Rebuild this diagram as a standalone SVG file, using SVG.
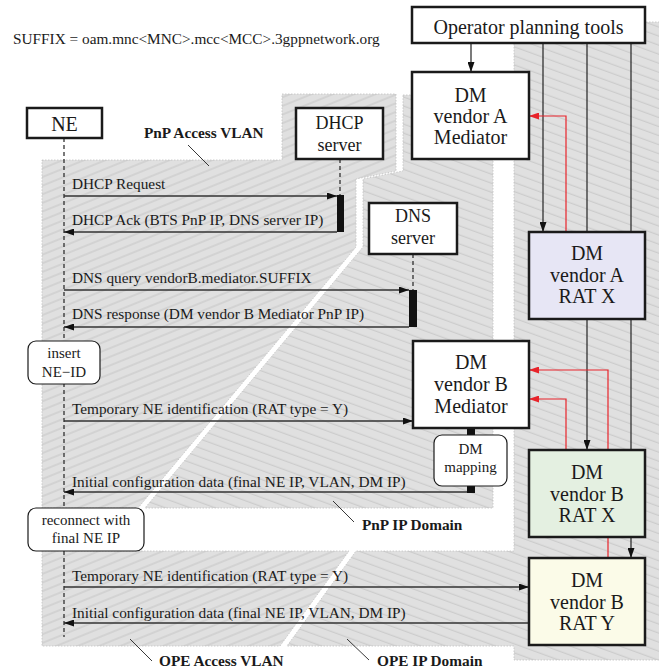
<svg xmlns="http://www.w3.org/2000/svg" width="659" height="670" viewBox="0 0 659 670">
<defs>
<pattern id="hatchL" patternUnits="userSpaceOnUse" width="10" height="8" patternTransform="rotate(-22)">
<rect width="10" height="8" fill="#e0e0e0"/>
<line x1="0" y1="4" x2="10" y2="4" stroke="#c2c2c2" stroke-width="0.9"/>
</pattern>
<pattern id="hatchR" patternUnits="userSpaceOnUse" width="10" height="8.5" patternTransform="rotate(20)">
<rect width="10" height="8.5" fill="#e0e0e0"/>
<line x1="0" y1="4" x2="10" y2="4" stroke="#c2c2c2" stroke-width="0.9"/>
</pattern>
<marker id="ah" viewBox="0 0 10 7" refX="10" refY="3.5" markerWidth="10" markerHeight="7" markerUnits="userSpaceOnUse" orient="auto">
<path d="M0,0 L10,3.5 L0,7 Z" fill="#111"/>
</marker>
<marker id="ahr" viewBox="0 0 10 7" refX="10" refY="3.5" markerWidth="10" markerHeight="7" markerUnits="userSpaceOnUse" orient="auto">
<path d="M0,0 L10,3.5 L0,7 Z" fill="#e8232a"/>
</marker>
<style>
.reg{stroke:#c2c2c2;stroke-width:0.8;stroke-dasharray:1.5 1.5}
.box{fill:#fff;stroke:#1a1a1a;stroke-width:2.5}
.rbox{fill:#fff;stroke:#1a1a1a;stroke-width:1.2}
.t{font-family:"Liberation Serif","Times New Roman",serif;fill:#1a1a1a}
.bt{font-size:20px;text-anchor:middle}
.bs{font-size:18px;text-anchor:middle}
.mt{font-size:15.3px}
.st{font-size:15px;text-anchor:middle}
.lb{font-size:15.3px;font-weight:bold}
.msg{stroke:#333;stroke-width:1.3;fill:none}
.life{stroke:#222;stroke-width:1.2;stroke-dasharray:4 3}
.con{stroke:#222;stroke-width:1.2;fill:none}
.red{stroke:#e8232a;stroke-width:1.2;fill:none}
.lead{stroke:#222;stroke-width:0.9}
</style>
</defs>

<g id="regions">
<path class="reg" fill="url(#hatchL)" d="M42,160 H282 V94 H396 V171 L356,179 V247 L138,508 H42 Z"/>
<path class="reg" fill="url(#hatchR)" d="M403,95 H493 V508 H145 L363,247 V179 L403,171 Z"/>
<path class="reg" fill="url(#hatchL)" d="M42,551 H349 L280,646 H42 Z"/>
<path class="reg" fill="url(#hatchR)" d="M514,22 H665 V660 H514 V646 H287 L356,551 H514 Z"/>
</g>

<text class="t mt" x="13" y="44">SUFFIX = oam.mnc&lt;MNC&gt;.mcc&lt;MCC&gt;.3gppnetwork.org</text>

<g id="region-labels">
<line class="lead" x1="188" y1="145" x2="209" y2="166"/>
<text class="t lb" x="144" y="138">PnP Access VLAN</text>
<line class="lead" x1="333" y1="501" x2="354" y2="522"/>
<text class="t lb" x="362" y="530">PnP IP Domain</text>
<line class="lead" x1="130" y1="639" x2="152" y2="661"/>
<text class="t lb" x="159" y="666">OPE Access VLAN</text>
<line class="lead" x1="347" y1="639" x2="369" y2="660"/>
<text class="t lb" x="377" y="666">OPE IP Domain</text>
</g>

<g id="connectors">
<line class="life" x1="64" y1="138" x2="64" y2="637"/>
<line class="life" x1="340" y1="159" x2="340" y2="195"/>
<line class="life" x1="413" y1="254" x2="413" y2="290"/>
<rect x="337" y="195" width="7" height="37" fill="#111"/>
<rect x="409" y="290" width="8" height="37" fill="#111"/>
<rect x="467" y="428" width="8" height="7" fill="#111"/>
<rect x="467" y="486" width="8" height="7" fill="#111"/>

<line class="msg" x1="64" y1="196" x2="337" y2="196" marker-end="url(#ah)"/>
<text class="t mt" x="72" y="189">DHCP Request</text>
<line class="msg" x1="337" y1="232" x2="64" y2="232" marker-end="url(#ah)"/>
<text class="t mt" x="72" y="225">DHCP Ack (BTS PnP IP, DNS server IP)</text>
<line class="msg" x1="64" y1="290" x2="409" y2="290" marker-end="url(#ah)"/>
<text class="t mt" x="72" y="283">DNS query vendorB.mediator.SUFFIX</text>
<line class="msg" x1="409" y1="327" x2="64" y2="327" marker-end="url(#ah)"/>
<text class="t mt" x="72" y="319">DNS response (DM vendor B Mediator PnP IP)</text>
<line class="msg" x1="64" y1="421" x2="413" y2="421" marker-end="url(#ah)"/>
<text class="t mt" x="72" y="414">Temporary NE identification (RAT type = Y)</text>
<line class="msg" x1="467" y1="492" x2="64" y2="492" marker-end="url(#ah)"/>
<text class="t mt" x="72" y="487">Initial configuration data (final NE IP, VLAN, DM IP)</text>
<line class="msg" x1="64" y1="587" x2="529" y2="587" marker-end="url(#ah)"/>
<text class="t mt" x="72" y="581">Temporary NE identification (RAT type = Y)</text>
<line class="msg" x1="529" y1="623" x2="64" y2="623" marker-end="url(#ah)"/>
<text class="t mt" x="72" y="618">Initial configuration data (final NE IP, VLAN, DM IP)</text>

<line class="con" x1="471" y1="43" x2="471" y2="72" marker-end="url(#ah)"/>
<line class="con" x1="543" y1="43" x2="543" y2="232" marker-end="url(#ah)"/>
<line class="con" x1="587" y1="43" x2="587" y2="450" marker-end="url(#ah)"/>
<line class="con" x1="631" y1="43" x2="631" y2="558" marker-end="url(#ah)"/>
<polyline class="red" points="566,232 566,116 529,116" marker-end="url(#ahr)"/>
<polyline class="red" points="608,558 608,370 529,370" marker-end="url(#ahr)"/>
<polyline class="red" points="566,450 566,399 529,399" marker-end="url(#ahr)"/>
</g>

<g id="operator">
<rect class="box" x="412" y="7" width="233" height="36"/>
<text class="t bt" x="528.5" y="34">Operator planning tools</text>
</g>
<g id="dm-a-mediator">
<rect class="box" x="412" y="72" width="117" height="87"/>
<text class="t bt" x="470.5" y="102">DM</text>
<text class="t bt" x="470.5" y="123">vendor A</text>
<text class="t bt" x="470.5" y="144">Mediator</text>
</g>
<g id="dm-a-ratx">
<rect class="box" x="529" y="232" width="116" height="87" style="fill:#e7e6f5"/>
<text class="t bt" x="587" y="260">DM</text>
<text class="t bt" x="587" y="282">vendor A</text>
<text class="t bt" x="587" y="303">RAT X</text>
</g>
<g id="dm-b-mediator">
<rect class="box" x="413" y="341" width="116" height="87"/>
<text class="t bt" x="471" y="369">DM</text>
<text class="t bt" x="471" y="391">vendor B</text>
<text class="t bt" x="471" y="413">Mediator</text>
</g>
<g id="dm-b-ratx">
<rect class="box" x="529" y="450" width="116" height="87" style="fill:#e4f0e1"/>
<text class="t bt" x="587" y="479">DM</text>
<text class="t bt" x="587" y="501">vendor B</text>
<text class="t bt" x="587" y="522">RAT X</text>
</g>
<g id="dm-b-raty">
<rect class="box" x="529" y="558" width="116" height="87" style="fill:#fbfbe8"/>
<text class="t bt" x="587" y="587">DM</text>
<text class="t bt" x="587" y="609">vendor B</text>
<text class="t bt" x="587" y="630">RAT Y</text>
</g>
<g id="ne">
<rect class="box" x="27" y="108" width="75" height="30"/>
<text class="t bt" x="64.5" y="131">NE</text>
</g>
<g id="dhcp">
<rect class="box" x="296" y="108" width="87" height="51"/>
<text class="t bs" x="339.5" y="129">DHCP</text>
<text class="t bs" x="339.5" y="151">server</text>
</g>
<g id="dns">
<rect class="box" x="369" y="203" width="88" height="51"/>
<text class="t bs" x="413" y="222">DNS</text>
<text class="t bs" x="413" y="244">server</text>
</g>
<g id="insert-ne-id">
<rect class="rbox" x="28" y="341" width="72" height="43" rx="8"/>
<text class="t st" x="64" y="358">insert</text>
<text class="t st" x="64" y="377">NE−ID</text>
</g>
<g id="dm-mapping">
<rect class="rbox" x="434" y="435" width="73" height="51" rx="8"/>
<text class="t st" x="470.5" y="454">DM</text>
<text class="t st" x="470.5" y="472">mapping</text>
</g>
<g id="reconnect">
<rect class="rbox" x="28" y="508" width="116" height="43" rx="8"/>
<text class="t st" x="86" y="525">reconnect with</text>
<text class="t st" x="86" y="543">final NE IP</text>
</g>
</svg>
